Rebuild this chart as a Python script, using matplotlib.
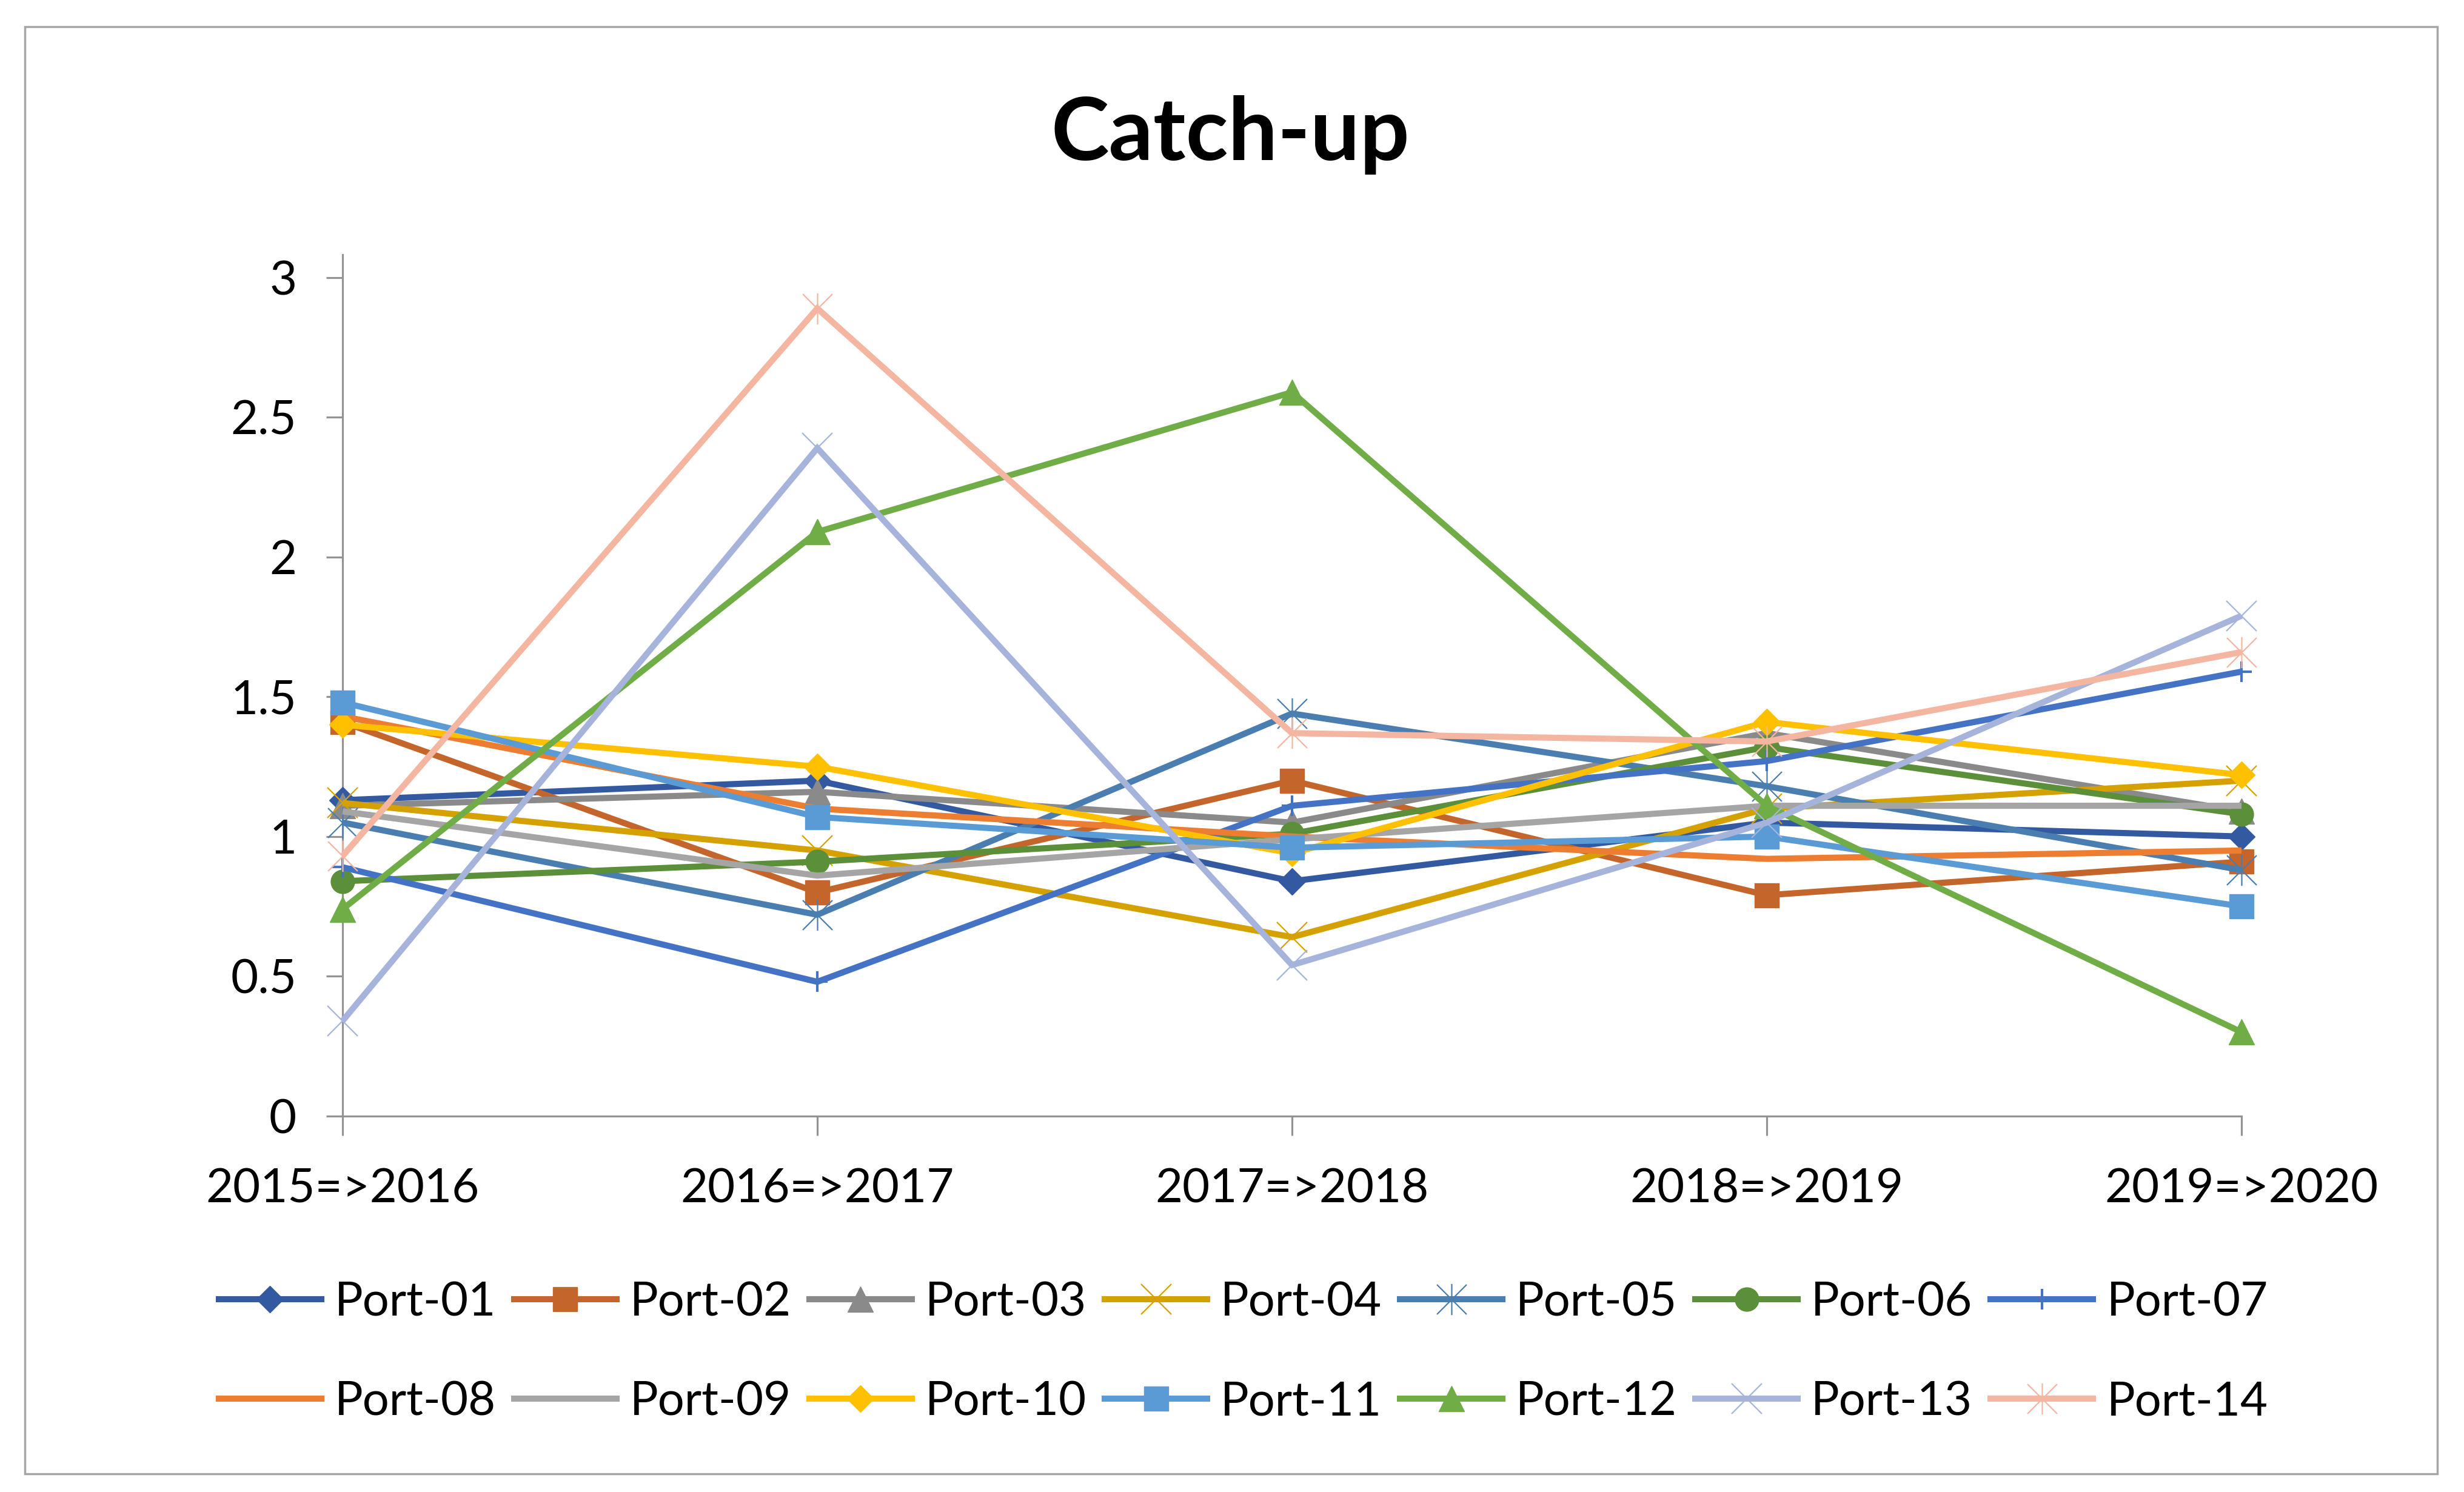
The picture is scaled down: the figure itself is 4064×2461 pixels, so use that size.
import matplotlib
matplotlib.use("Agg")
import matplotlib.pyplot as plt
from matplotlib.path import Path
from matplotlib.patches import Rectangle

# ---------------- data ----------------
categories = ['2015=>2016', '2016=>2017', '2017=>2018', '2018=>2019', '2019=>2020']
series_names = ['Port-01', 'Port-02', 'Port-03', 'Port-04', 'Port-05', 'Port-06', 'Port-07',
                'Port-08', 'Port-09', 'Port-10', 'Port-11', 'Port-12', 'Port-13', 'Port-14']
port_01 = [1.13, 1.20, 0.84, 1.05, 1.00]
port_02 = [1.41, 0.80, 1.20, 0.79, 0.91]
port_03 = [1.11, 1.16, 1.05, 1.37, 1.09]
port_04 = [1.12, 0.95, 0.64, 1.10, 1.20]
port_05 = [1.05, 0.72, 1.44, 1.18, 0.88]
port_06 = [0.84, 0.91, 1.01, 1.32, 1.08]
port_07 = [0.89, 0.48, 1.11, 1.27, 1.59]
port_08 = [1.43, 1.10, 1.00, 0.92, 0.95]
port_09 = [1.09, 0.86, 0.99, 1.11, 1.11]
port_10 = [1.40, 1.25, 0.94, 1.41, 1.22]
port_11 = [1.48, 1.07, 0.96, 1.00, 0.75]
port_12 = [0.74, 2.09, 2.59, 1.11, 0.30]
port_13 = [0.34, 2.39, 0.54, 1.05, 1.79]
port_14 = [0.93, 2.89, 1.37, 1.34, 1.66]
values = [port_01, port_02, port_03, port_04, port_05, port_06, port_07,
          port_08, port_09, port_10, port_11, port_12, port_13, port_14]
y_ticks = [0, 0.5, 1, 1.5, 2, 2.5, 3]
y_tick_labels = ['0', '0.5', '1', '1.5', '2', '2.5', '3']
title = 'Catch-up'

# ---------------- styles ----------------
colors = ['#335AA1', '#C4652B', '#8A8A8A', '#D5A100', '#4A7EB0', '#5B8F3A', '#4472C4',
          '#ED7D31', '#A5A5A5', '#FFC000', '#5B9BD5', '#70AD47', '#A6B4DB', '#F4B6A1']
asterisk = Path([(-1, -1), (1, 1), (-1, 1), (1, -1), (0, -1.05), (0, 1.05)],
                [Path.MOVETO, Path.LINETO, Path.MOVETO, Path.LINETO, Path.MOVETO, Path.LINETO])
markers = ['D', 's', '^', 'x', asterisk, 'o', '+', None, None, 'D', 's', '^', 'x', asterisk]
msizes = [22, 29, 30, 36, 37, 28, 25, 0, 0, 22, 29, 30, 36, 37]
mews = [1, 1, 1, 1.6, 1.6, 1, 3.0, 1, 1, 1, 1, 1, 1.6, 1.6]

plt.rcParams['font.family'] = ['Lato', 'DejaVu Sans']

W, H = 4064, 2461
fig = plt.figure(figsize=(W / 100, H / 100), dpi=100)
fig.patch.set_facecolor('white')

left = 565 / W
right = 3697 / W
bottom = (H - 1840.7) / H
top = (H - 420) / H
ax = fig.add_axes([left, bottom, right - left, top - bottom])

x = list(range(len(categories)))
handles = []
for i, name in enumerate(series_names):
    m = markers[i]
    kw = dict(color=colors[i], lw=7.3, label=name, solid_joinstyle='miter',
              solid_capstyle='butt', clip_on=False, zorder=3 + i * 0.01)
    if m is not None:
        kw.update(marker=m, markersize=msizes[i], markeredgewidth=mews[i],
                  markeredgecolor=colors[i])
        if m in ('x', '+') or isinstance(m, Path):
            kw.update(markerfacecolor='none')
        else:
            kw.update(markerfacecolor=colors[i])
    line, = ax.plot(x, values[i], **kw)
    handles.append(line)

ax.set_xlim(0, len(categories) - 1)
ax.set_ylim(0, (1840.7 - 420) / 460.9)
ax.set_xticks(x)
ax.set_xticklabels(categories)
ax.set_yticks(y_ticks)
ax.set_yticklabels(y_tick_labels)

for s in ['top', 'right']:
    ax.spines[s].set_visible(False)
for s in ['left', 'bottom']:
    ax.spines[s].set_color('#939393')
    ax.spines[s].set_linewidth(2.3)
ax.tick_params(axis='y', direction='out', length=19.5, width=2.3, color='#939393',
               labelsize=56, labelcolor='#000000', pad=35)
ax.tick_params(axis='x', direction='out', length=23, width=2.3, color='#939393',
               labelsize=56, labelcolor='#000000', pad=39)
ax.set_facecolor('none')

fig.text(0.4993, 1 - 223 / H, title, ha='center', va='center',
         fontsize=104, fontweight='bold', color='#000000')

# legend filled row by row (7 per row)
ncol = 7
nrow = 2
order = [r * ncol + c for c in range(ncol) for r in range(nrow)]
leg = fig.legend([handles[k] for k in order], [series_names[k] for k in order],
                 loc='center', bbox_to_anchor=(0.504, 1 - 2231 / H), ncol=ncol,
                 frameon=False, fontsize=56, handlelength=2.3, handletextpad=0.22,
                 columnspacing=0.32, labelspacing=1.2)

fig.patches.append(Rectangle((41 / W, 1 - 2431 / H), (4020 - 41) / W, (2431 - 44) / H,
                             transform=fig.transFigure, fill=False,
                             edgecolor='#A6A6A6', linewidth=2.5, zorder=0))

fig.savefig('out.png', dpi=100, facecolor='white')
